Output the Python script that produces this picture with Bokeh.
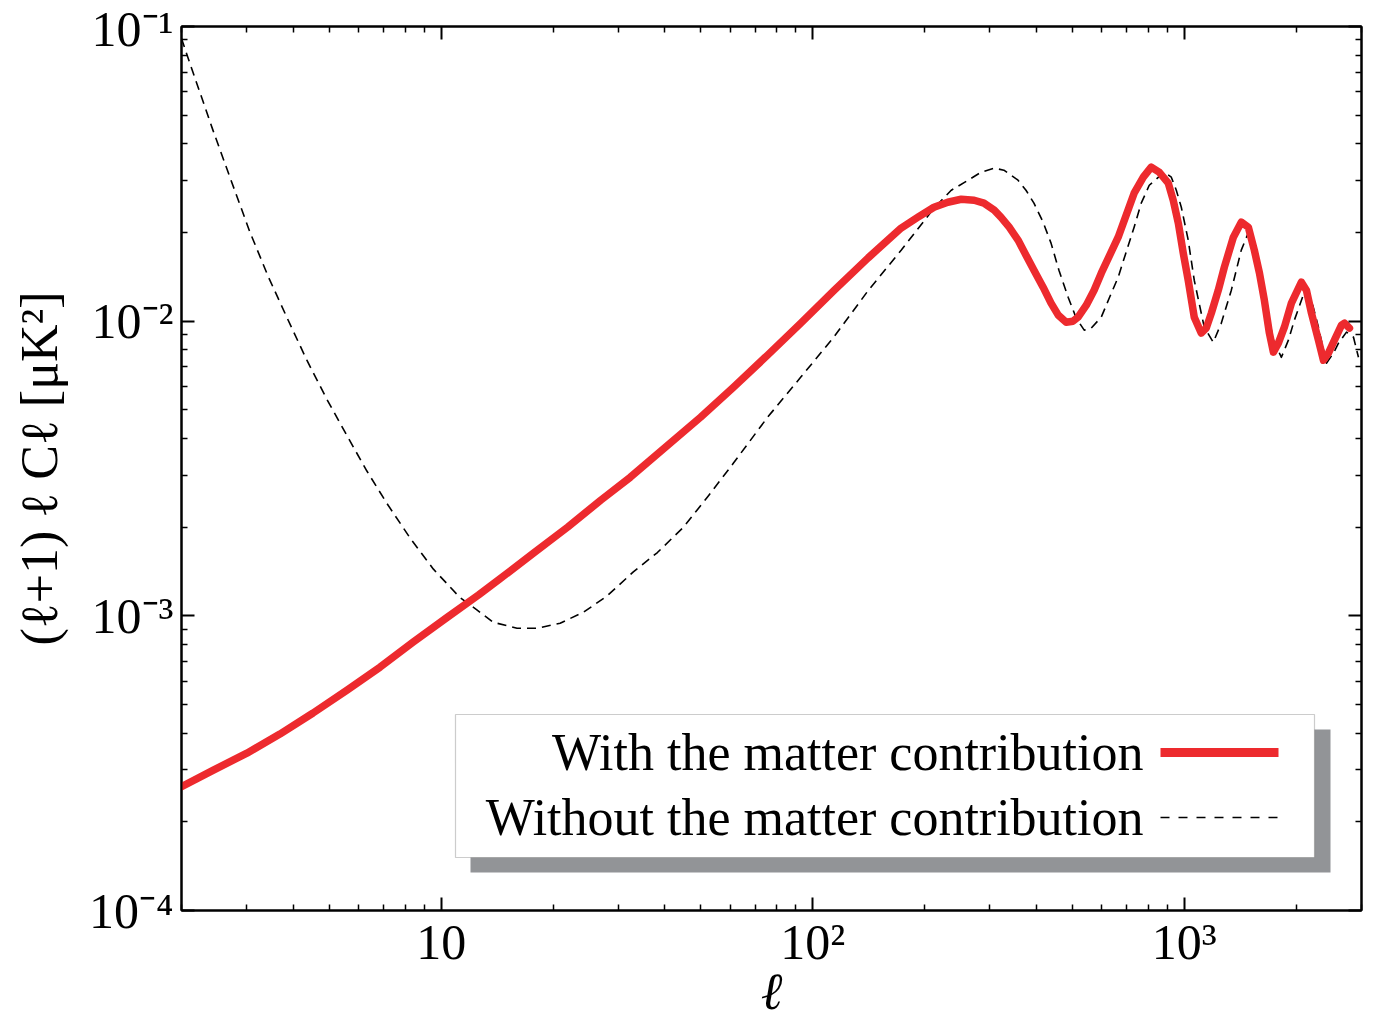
from bokeh.plotting import figure
from bokeh.models import (LogAxis, FixedTicker, CustomJSTickFormatter, BoxAnnotation,
                          Label, Arrow, Range1d, ColumnDataSource)
from bokeh.embed import file_html
from bokeh.resources import INLINE

# ---------------- data ----------------
ell_with = [2.0, 2.43, 3.0, 3.68, 4.52, 5.58, 6.85, 8.41, 10.4, 12.6,
            14.4, 17.7, 21.9, 26.9, 32.3, 49.9, 61.2, 75.6, 92.9, 114,
            141, 173, 192, 212, 231, 251, 272, 289, 308, 321,
            338, 357, 375, 394, 417, 438, 458, 481, 502, 518,
            545, 572, 598, 664, 733, 776, 815, 856, 906, 934,
            964, 994, 1025, 1064, 1111, 1146, 1183, 1235, 1282, 1356,
            1424, 1488, 1544, 1594, 1643, 1695, 1738, 1792, 1860, 1943,
            2067, 2132, 2200, 2297, 2370, 2444, 2537, 2650, 2700, 2784]
cl_with = [2.63e-4, 2.99e-4, 3.42e-4, 3.97e-4, 4.68e-4, 5.60e-4, 6.70e-4, 8.15e-4, 9.9e-4, 1.177e-3,
           1.336e-3, 1.63e-3, 2.0e-3, 2.47e-3, 2.955e-3, 4.72e-3, 5.97e-3, 7.67e-3, 9.85e-3, 1.27e-2,
           1.64e-2, 2.07e-2, 2.254e-2, 2.436e-2, 2.533e-2, 2.593e-2, 2.573e-2, 2.514e-2, 2.380e-2, 2.254e-2,
           2.084e-2, 1.884e-2, 1.675e-2, 1.489e-2, 1.304e-2, 1.151e-2, 1.048e-2, 9.92e-3, 1.0e-2, 1.032e-2,
           1.133e-2, 1.274e-2, 1.455e-2, 1.928e-2, 2.719e-2, 3.081e-2, 3.332e-2, 3.204e-2, 2.939e-2, 2.573e-2,
           2.150e-2, 1.701e-2, 1.377e-2, 1.032e-2, 9.11e-3, 9.47e-3, 1.065e-2, 1.274e-2, 1.524e-2, 1.928e-2,
           2.168e-2, 2.084e-2, 1.742e-2, 1.455e-2, 1.178e-2, 9.11e-3, 7.85e-3, 8.42e-3, 9.54e-3, 1.151e-2,
           1.356e-2, 1.274e-2, 1.065e-2, 8.62e-3, 7.37e-3, 7.79e-3, 8.62e-3, 9.69e-3, 9.84e-3, 9.47e-3]

ell_without = [2.0, 2.07, 2.17, 2.43, 2.70, 3.05, 3.42, 3.84, 4.35, 4.92,
               5.57, 6.31, 7.14, 8.25, 9.53, 11.2, 12.5, 13.8, 16.0, 18.2,
               20.9, 24.2, 28.0, 32.9, 38.2, 44.9, 52.1, 61.2, 75.6, 92.9,
               114, 141, 173, 212, 236, 262, 284, 308, 327, 357,
               375, 394, 417, 438, 460, 487, 512, 538, 562, 598,
               628, 664, 733, 766, 805, 883, 923, 952, 982, 1025,
               1064, 1132, 1197, 1258, 1339, 1424, 1497, 1564, 1613, 1738,
               1826, 1907, 1980, 2106, 2200, 2297, 2414, 2521, 2601, 2733,
               2855, 2944]
cl_without = [9.1e-2, 8.0e-2, 6.73e-2, 4.45e-2, 3.08e-2, 2.02e-2, 1.421e-2, 1.032e-2, 7.37e-3, 5.44e-3,
              4.10e-3, 3.10e-3, 2.41e-3, 1.835e-3, 1.44e-3, 1.158e-3, 1.045e-3, 9.51e-4, 9.08e-4, 9.08e-4,
              9.44e-4, 1.03e-3, 1.17e-3, 1.41e-3, 1.64e-3, 2.0e-3, 2.53e-3, 3.30e-3, 4.72e-3, 6.46e-3,
              8.83e-3, 1.27e-2, 1.74e-2, 2.417e-2, 2.782e-2, 3.009e-2, 3.204e-2, 3.305e-2, 3.254e-2, 3.009e-2,
              2.782e-2, 2.514e-2, 2.168e-2, 1.840e-2, 1.489e-2, 1.206e-2, 1.024e-2, 9.32e-3, 9.47e-3, 1.032e-2,
              1.196e-2, 1.410e-2, 2.084e-2, 2.514e-2, 2.892e-2, 3.204e-2, 3.081e-2, 2.782e-2, 2.436e-2, 1.884e-2,
              1.377e-2, 9.54e-3, 8.48e-3, 9.84e-3, 1.274e-2, 1.742e-2, 2.035e-2, 1.783e-2, 1.377e-2, 8.62e-3,
              7.54e-3, 8.62e-3, 1.010e-2, 1.257e-2, 1.178e-2, 9.54e-3, 7.20e-3, 7.79e-3, 8.42e-3, 9.18e-3,
              8.82e-3, 7.54e-3]

x_major = [10, 100, 1000]
x_minor = [2, 3, 4, 5, 6, 7, 8, 9, 20, 30, 40, 50, 60, 70, 80, 90,
           200, 300, 400, 500, 600, 700, 800, 900, 2000, 3000]
y_major = [1e-4, 1e-3, 1e-2, 1e-1]
y_minor = [k * d for d in [1e-4, 1e-3, 1e-2] for k in range(2, 10)]

legend_labels = ["With the matter contribution", "Without the matter contribution"]
x_label = "ℓ"
y_label = "(ℓ+1) ℓ Cℓ [μK²]"

# ---------------- styling ----------------
FONT = "Liberation Serif"
RED = "#ED2A2E"

p = figure(width=1392, height=1024, x_axis_type="log", y_axis_type="log",
           x_range=Range1d(2, 3000), y_range=Range1d(1e-4, 1e-1),
           output_backend="svg", toolbar_location=None,
           min_border_left=181, min_border_right=31, min_border_top=26,
           min_border_bottom=114)
p.xgrid.visible = False
p.ygrid.visible = False
p.outline_line_color = "black"
p.outline_line_width = 2
p.background_fill_color = "white"
p.border_fill_color = "white"

sup_code = """
const sup = {"-":"\u207B","0":"\u2070","1":"\u00B9","2":"\u00B2","3":"\u00B3",
             "4":"\u2074","5":"\u2075","6":"\u2076","7":"\u2077","8":"\u2078","9":"\u2079"};
const e = Math.round(Math.log10(tick));
if (e == 1) { return "10"; }
return "10" + String(e).split("").map(c => sup[c]).join("");
"""

xticker = FixedTicker(ticks=x_major, minor_ticks=x_minor)
yticker = FixedTicker(ticks=y_major, minor_ticks=y_minor)

xa = p.xaxis[0]
ya = p.yaxis[0]
for ax, tk in ((xa, xticker), (ya, yticker)):
    ax.ticker = tk
    ax.formatter = CustomJSTickFormatter(code=sup_code)
    ax.major_label_text_font = FONT
    ax.major_label_text_font_size = "50px"
    ax.major_label_text_color = "black"
    ax.axis_label_text_font = FONT
    ax.axis_label_text_font_size = "52px"
    ax.axis_label_text_color = "black"
    ax.axis_line_width = 2
    ax.major_tick_in = 13
    ax.major_tick_out = 0
    ax.minor_tick_in = 6
    ax.minor_tick_out = 0
    ax.major_tick_line_width = 2
    ax.minor_tick_line_width = 1.5

xa.axis_label = x_label
xa.axis_label_text_font_style = "italic"
xa.major_label_standoff = 3
xa.axis_label_standoff = -10
ya.axis_label = y_label
ya.axis_label_text_font_style = "normal"
ya.major_label_standoff = 8
ya.axis_label_standoff = 18

for loc, tk in (("above", xticker), ("right", yticker)):
    ax = LogAxis(ticker=tk, formatter=CustomJSTickFormatter(code="return '';"),
                 major_tick_in=13, major_tick_out=0, minor_tick_in=6, minor_tick_out=0,
                 axis_line_width=2, major_tick_line_width=2, minor_tick_line_width=1.5,
                 major_label_text_font_size="1px", major_label_standoff=0)
    p.add_layout(ax, loc)

src_with = ColumnDataSource(dict(x=ell_with, y=cl_with))
src_without = ColumnDataSource(dict(x=ell_without, y=cl_without))
p.line("x", "y", source=src_without, line_color="black", line_width=1.6,
       line_dash="9 6", line_join="round")
p.line("x", "y", source=src_with, line_color=RED, line_width=7.5,
       line_join="round", line_cap="round")

# ---------------- legend (drawn by hand: label left, sample right) ----------------
p.add_layout(BoxAnnotation(left=289, right=1149, bottom=38, top=181,
                           left_units="screen", right_units="screen",
                           bottom_units="screen", top_units="screen",
                           fill_color="#929497", fill_alpha=1.0, line_color=None))
p.add_layout(BoxAnnotation(left=274, right=1133, bottom=53, top=196,
                           left_units="screen", right_units="screen",
                           bottom_units="screen", top_units="screen",
                           fill_color="white", fill_alpha=1.0,
                           line_color="#555555", line_width=1.2))
row_y = [158, 93]
styles = [dict(line_color=RED, line_width=9),
          dict(line_color="black", line_width=1.6, line_dash="9 9")]
for lab, yy, st in zip(legend_labels, row_y, styles):
    p.add_layout(Label(x=962, y=yy, x_units="screen", y_units="screen", text=lab,
                       text_align="right", text_baseline="middle", text_font=FONT,
                       text_font_size="52px", text_color="black"))
    p.add_layout(Arrow(x_start=979, y_start=yy, x_end=1097, y_end=yy,
                       start_units="screen", end_units="screen", end=None, **st))

open("out.html", "w").write(file_html(p, INLINE))
